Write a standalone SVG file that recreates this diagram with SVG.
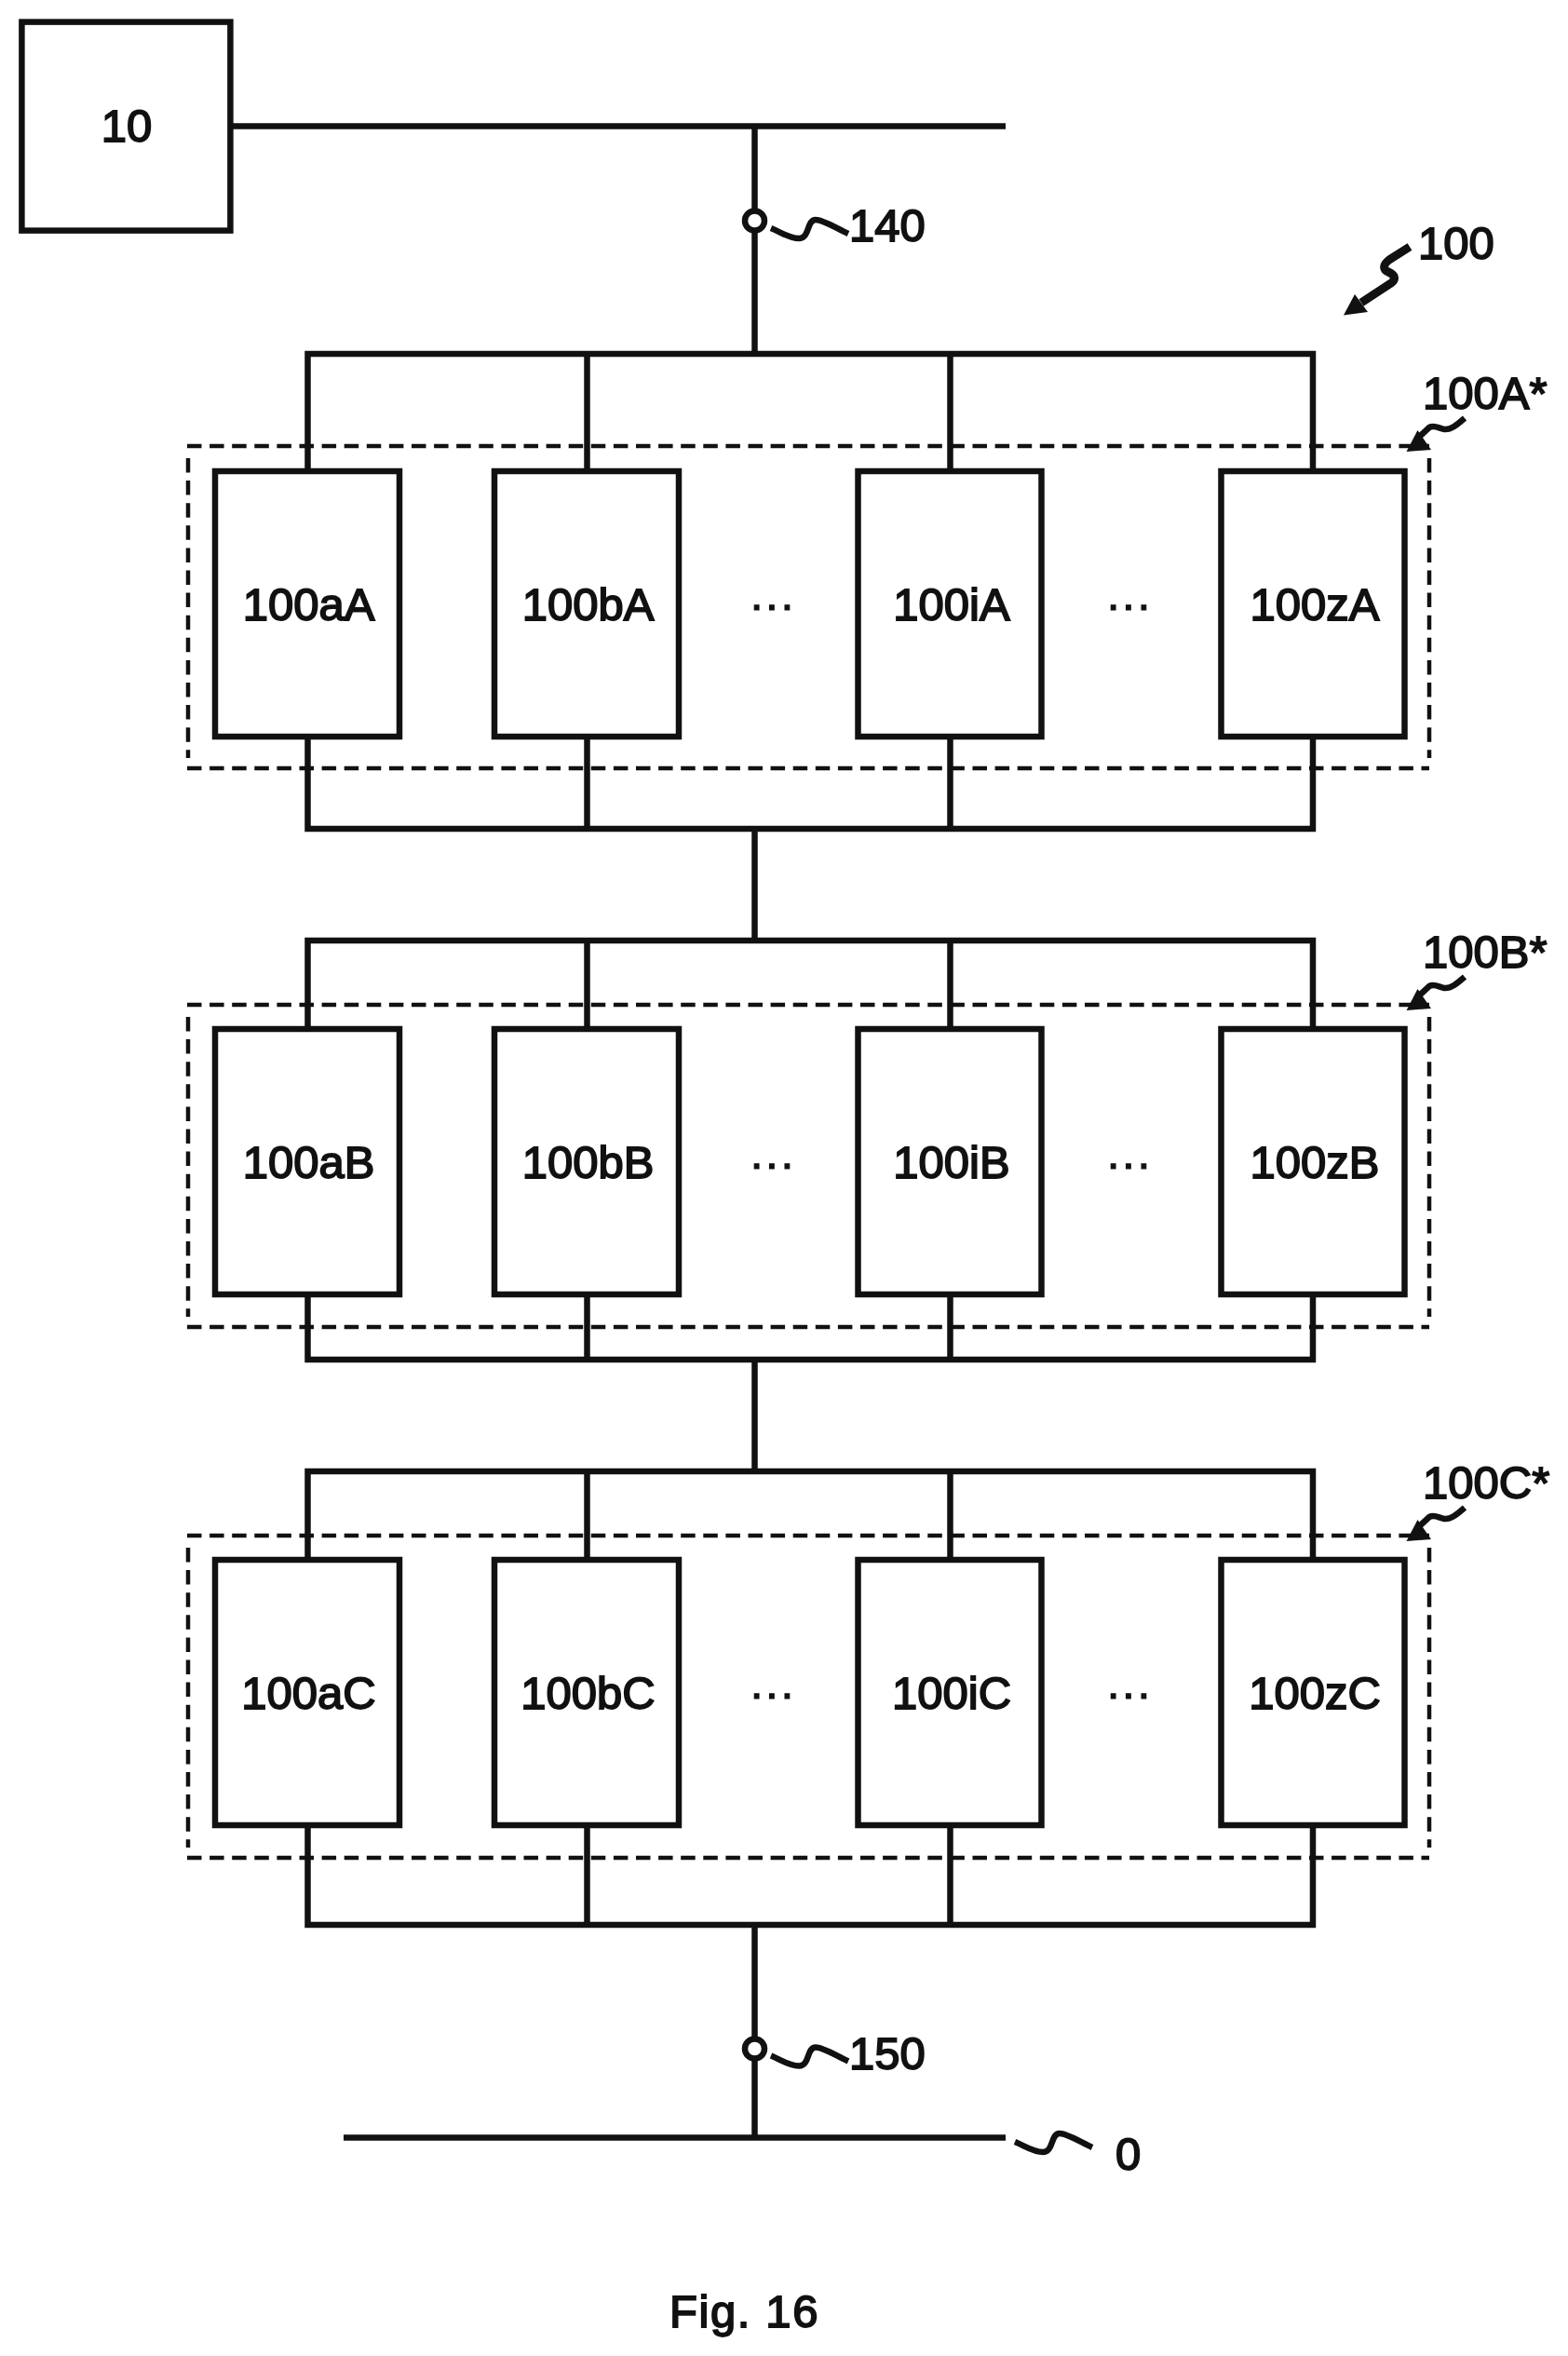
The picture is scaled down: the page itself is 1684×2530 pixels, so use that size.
<svg xmlns="http://www.w3.org/2000/svg" width="1684" height="2530" viewBox="0 0 1684 2530">
<style>
.w{fill:none;stroke:#111;stroke-width:6.5;stroke-linejoin:miter}
.box{fill:#fff;stroke:#111;stroke-width:6.5}
.dash{fill:none;stroke:#111;stroke-width:4.5;stroke-dasharray:15.5 8.6}
.sq{fill:none;stroke:#111;stroke-width:6.5}
.sqb{fill:none;stroke:#111;stroke-width:9}
.head{fill:#111;stroke:none}
text{font-family:"Liberation Sans",Arial,sans-serif;font-size:49px;fill:#111;stroke:#111;stroke-width:1.8}
.m{text-anchor:middle}
.dots{stroke-width:1.2}
</style>
<rect width="1684" height="2530" fill="#fff"/>
<g id="groups">
<g id="group-100A"><path class="dash" d="M201,479H1535M201,825H1535M202,492V814M1535,492V814"/></g>
<g id="group-100B"><path class="dash" d="M201,1079H1535M201,1425H1535M202,1092V1414M1535,1092V1414"/></g>
<g id="group-100C"><path class="dash" d="M201,1649H1535M201,1995H1535M202,1662V1984M1535,1662V1984"/></g>
</g>
<g id="connectors">
<path class="w" d="M250,135.5H1080"/>
<path class="w" d="M810.5,135.5V380"/>
<path class="w" d="M330.5,506V380H1410V506M630.5,380V506M1020.5,380V506"/>
<path class="w" d="M330.5,791V890H1410V791M630.5,791V890M1020.5,791V890"/>
<path class="w" d="M810.5,890V1010"/>
<path class="w" d="M330.5,1105V1010H1410V1105M630.5,1010V1105M1020.5,1010V1105"/>
<path class="w" d="M330.5,1390V1460H1410V1390M630.5,1390V1460M1020.5,1390V1460"/>
<path class="w" d="M810.5,1460V1580"/>
<path class="w" d="M330.5,1675V1580H1410V1675M630.5,1580V1675M1020.5,1580V1675"/>
<path class="w" d="M330.5,1960V2067H1410V1960M630.5,1960V2067M1020.5,1960V2067"/>
<path class="w" d="M810.5,2067V2295.5"/>
<path class="w" d="M369,2295.5H1080"/>
</g>
<g id="terminal-140"><circle cx="810.5" cy="237" r="10.5" fill="#fff" stroke="#111" stroke-width="6.5"/></g>
<g id="terminal-150"><circle cx="810.5" cy="2200" r="10.5" fill="#fff" stroke="#111" stroke-width="6.5"/></g>
<g id="node-10"><rect class="box" x="23.4" y="23.6" width="224" height="224"/><text class="m" x="136" y="152">10</text></g>
<g id="node-100aA"><rect class="box" x="231" y="506" width="198" height="285"/><text class="m" x="331.5" y="666">100aA</text></g>
<g id="node-100bA"><rect class="box" x="531" y="506" width="198" height="285"/><text class="m" x="631.5" y="666">100bA</text></g>
<g id="node-100iA"><rect class="box" x="921.5" y="506" width="197" height="285"/><text class="m" x="1022" y="666">100iA</text></g>
<g id="node-100zA"><rect class="box" x="1311.5" y="506" width="197" height="285"/><text class="m" x="1412" y="666">100zA</text></g>
<g id="node-100aB"><rect class="box" x="231" y="1105" width="198" height="285"/><text class="m" x="331.5" y="1265">100aB</text></g>
<g id="node-100bB"><rect class="box" x="531" y="1105" width="198" height="285"/><text class="m" x="631.5" y="1265">100bB</text></g>
<g id="node-100iB"><rect class="box" x="921.5" y="1105" width="197" height="285"/><text class="m" x="1022" y="1265">100iB</text></g>
<g id="node-100zB"><rect class="box" x="1311.5" y="1105" width="197" height="285"/><text class="m" x="1412" y="1265">100zB</text></g>
<g id="node-100aC"><rect class="box" x="231" y="1675" width="198" height="285"/><text class="m" x="331.5" y="1835">100aC</text></g>
<g id="node-100bC"><rect class="box" x="531" y="1675" width="198" height="285"/><text class="m" x="631.5" y="1835">100bC</text></g>
<g id="node-100iC"><rect class="box" x="921.5" y="1675" width="197" height="285"/><text class="m" x="1022" y="1835">100iC</text></g>
<g id="node-100zC"><rect class="box" x="1311.5" y="1675" width="197" height="285"/><text class="m" x="1412" y="1835">100zC</text></g>
<g id="ellipses">
<text class="m dots" x="829" y="666">···</text>
<text class="m dots" x="1212" y="666">···</text>
<text class="m dots" x="829" y="1266">···</text>
<text class="m dots" x="1212" y="1266">···</text>
<text class="m dots" x="829" y="1835">···</text>
<text class="m dots" x="1212" y="1835">···</text>
</g>
<g id="labels">
<path class="sq" d="M828,245C840,250 848,256 858,256C870,256 866,236 876,236C884,236 898,245 911,251"/>
<text x="912" y="259">140</text>
<path class="sq" d="M828,2207.5C840,2212.5 848,2218.5 858,2218.5C870,2218.5 866,2198.5 876,2198.5C884,2198.5 898,2207.5 911,2213.5"/>
<text x="912" y="2222">150</text>
<path class="sq" d="M1090,2300C1102,2305 1110,2311 1120,2311C1132,2311 1128,2291 1138,2291C1146,2291 1160,2300 1173,2306"/>
<text x="1198" y="2330">0</text>
<path class="sqb" d="M1514,265L1492,279C1484,285 1486,290 1491,292C1498,295 1500,300 1494,304L1462,325"/>
<polygon class="head" points="1443,338.5 1455,316 1469,335"/>
<text x="1523" y="278">100</text>
<path class="sq" d="M1573,449C1565,456 1558,462 1551,461C1545,460 1541,456 1535,459L1522,471"/>
<polygon class="head" points="1510.5,485 1522.5,462 1537,483"/>
<text x="1528" y="439">100A*</text>
<path class="sq" d="M1573,1049C1565,1056 1558,1062 1551,1061C1545,1060 1541,1056 1535,1059L1522,1071"/>
<polygon class="head" points="1510.5,1085 1522.5,1062 1537,1083"/>
<text x="1528" y="1039">100B*</text>
<path class="sq" d="M1573,1619C1565,1626 1558,1632 1551,1631C1545,1630 1541,1626 1535,1629L1522,1641"/>
<polygon class="head" points="1510.5,1655 1522.5,1632 1537,1653"/>
<text x="1528" y="1609">100C*</text>
<text x="719" y="2499" letter-spacing="1.6">Fig. 16</text>
</g>
</svg>
